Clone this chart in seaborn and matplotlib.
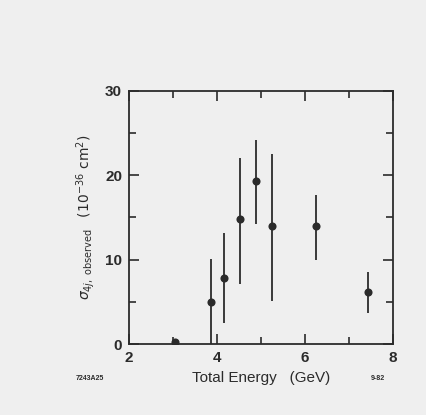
import numpy as np
import pandas as pd
import matplotlib.pyplot as plt
import seaborn as sns
from matplotlib.ticker import MultipleLocator

# data
energy = [3.05, 3.86, 4.16, 4.52, 4.89, 5.25, 6.25, 7.43]
sigma = [0.3, 5.0, 7.8, 14.8, 19.3, 14.0, 14.0, 6.2]
err_lo = [0.0, 5.0, 5.3, 7.7, 5.1, 8.9, 4.0, 2.5]
err_hi = [0.0, 5.1, 5.4, 7.3, 4.9, 8.5, 3.7, 2.3]

df = pd.DataFrame({"energy": energy, "sigma": sigma})

sns.set_style("ticks")
plt.rcParams["font.family"] = ["Liberation Sans", "DejaVu Sans"]
ink = "#2b2b2b"
bg = "#efefef"

fig = plt.figure(figsize=(4.27, 4.15), dpi=100, facecolor=bg)
ax = fig.add_axes([0.302, 0.171, 0.618, 0.610])
ax.set_facecolor(bg)

ax.errorbar(energy, sigma, yerr=[err_lo, err_hi], fmt="none",
            ecolor=ink, elinewidth=1.3, capsize=0)
sns.scatterplot(data=df, x="energy", y="sigma", ax=ax, color=ink,
                s=34, edgecolor=ink, linewidth=0, zorder=3)

ax.set_xlim(2, 8)
ax.set_ylim(0, 30)
ax.xaxis.set_major_locator(MultipleLocator(2))
ax.xaxis.set_minor_locator(MultipleLocator(1))
ax.yaxis.set_major_locator(MultipleLocator(10))
ax.yaxis.set_minor_locator(MultipleLocator(5))
ax.tick_params(which="both", direction="in", top=True, right=True,
               color=ink, width=1.2, labelsize=11, labelcolor=ink, pad=5)
ax.tick_params(which="major", length=7)
ax.tick_params(which="minor", length=5)
for lbl in ax.get_xticklabels() + ax.get_yticklabels():
    lbl.set_fontweight("bold")
for s in ax.spines.values():
    s.set_color(ink)
    s.set_linewidth(1.3)

ax.set_xlabel("Total Energy   (GeV)", fontsize=11, color=ink, labelpad=4)
ax.set_ylabel(r"$\sigma_{4j,\ \mathrm{observed}}$   $(10^{-36}\ \mathrm{cm}^2)$",
              fontsize=10, color=ink, labelpad=6)

fig.text(0.21, 0.085, "7243A25", fontsize=5, color=ink, ha="center", fontweight="bold")
fig.text(0.885, 0.085, "9-82", fontsize=5, color=ink, ha="center", fontweight="bold")

fig.savefig("out.png", dpi=100, facecolor=bg)
